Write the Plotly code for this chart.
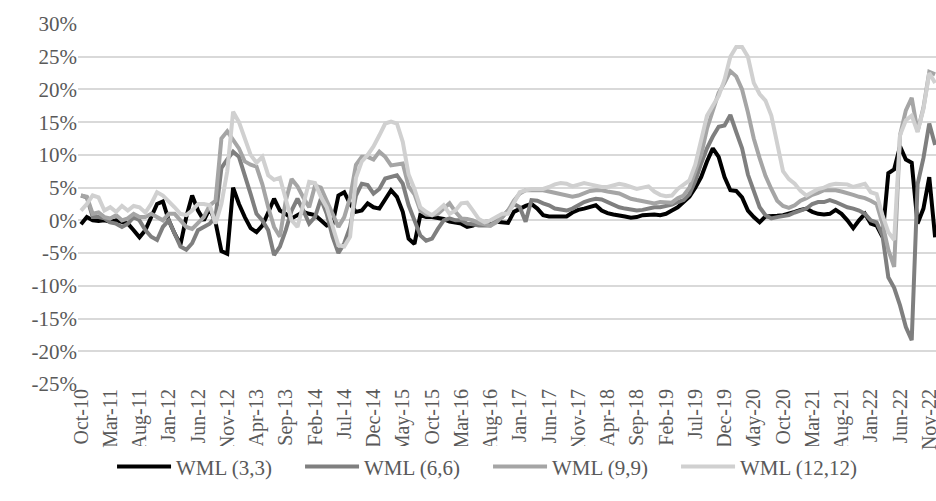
import plotly.graph_objects as go

tick_labels = ["Oct-10", "Mar-11", "Aug-11", "Jan-12", "Jun-12", "Nov-12", "Apr-13", "Sep-13",
               "Feb-14", "Jul-14", "Dec-14", "May-15", "Oct-15", "Mar-16", "Aug-16", "Jan-17",
               "Jun-17", "Nov-17", "Apr-18", "Sep-18", "Feb-19", "Jul-19", "Dec-19", "May-20",
               "Oct-20", "Mar-21", "Aug-21", "Jan-22", "Jun-22", "Nov-22"]
y_tick_values = [-25, -20, -15, -10, -5, 0, 5, 10, 15, 20, 25, 30]
y_tick_labels = ["-25%", "-20%", "-15%", "-10%", "-5%", "0%", "5%", "10%", "15%", "20%", "25%", "30%"]

# monthly returns in %, Oct-10 onward
wml_3_3 = [-0.6, 0.5, 0.0, -0.1, 0.0, -0.2, 0.0, -0.3, -0.5, -1.5,
           -2.6, -1.5, 0.5, 2.5, 2.9, 0.0, -2.0, -3.7, 0.5, 3.8,
           1.5, 0.0, 1.8, -0.3, -4.7, -5.1, 5.0, 2.5, 0.5, -1.2,
           -1.8, -0.8, 1.2, 3.3, 1.5, 1.0, 0.3, 0.8, 1.3, 1.0,
           0.8, 0.0, -0.8, -0.5, 3.8, 4.3, 2.5, 1.3, 1.5, 2.6,
           2.0, 1.8, 3.3, 4.6, 3.6, 1.3, -2.8, -3.6, 0.8, 0.5,
           0.5, 0.3, 0.2, -0.2, -0.3, -0.5, -1.0, -0.8, -0.3, -0.2,
           -0.2, -0.2, -0.3, -0.4, 1.3, 1.8, 2.2, 2.5, 1.8, 0.8,
           0.6, 0.6, 0.6, 0.6, 1.2, 1.6, 1.8, 2.0, 2.3, 1.5,
           1.1, 0.9, 0.8, 0.6, 0.4, 0.5, 0.8, 0.9, 0.9, 0.8,
           1.0, 1.5, 2.0, 2.8, 3.6, 5.0, 6.6, 9.0, 11.0, 9.7,
           6.6, 4.6, 4.5, 3.5, 1.5, 0.5, -0.3, 0.6, 0.6, 0.7,
           0.8, 1.0, 1.3, 1.6, 1.8, 1.3, 1.0, 0.9, 1.0, 1.6,
           1.0, 0.0, -1.2, 0.0, 1.0, -0.5, -0.8, -2.5, 7.2, 7.8,
           11.3, 9.3, 8.8, -0.5, 1.8, 6.6, -2.6]

wml_6_6 = [3.8, 3.5, 0.5, 0.5, 0.3, -0.3, -0.5, -1.0, -0.5, 0.5,
           0.0, -1.5, -2.5, -3.0, -1.0, 0.0, -2.0, -4.0, -4.5, -3.5,
           -1.5, -1.0, -0.5, 0.5, 8.0, 9.3, 10.5, 9.7, 7.0, 4.0,
           1.0, 0.0, -1.5, -5.3, -4.0, -1.5, 1.5, 3.3, 1.5, -0.5,
           0.5, 3.3, 1.0, -2.5, -5.0, -3.5, -1.0, 3.8, 5.6, 5.4,
           4.1, 4.8, 6.4, 6.6, 6.9, 5.6, 2.3, 0.0, -2.3, -3.1,
           -2.8, -1.3, 0.0, 0.3, 0.0, 0.0, -0.5, -0.6, -0.8, -0.8,
           -0.8, 0.0, 0.5, 1.5, 2.5, 2.0, -0.2, 3.1, 3.0, 2.6,
           2.3, 1.8, 1.6, 1.5, 1.8, 2.3, 2.8, 3.1, 3.3, 3.2,
           2.8, 2.3, 2.0, 1.8, 1.6, 1.5, 1.6, 1.8, 2.0, 2.0,
           2.2, 2.4, 2.8, 3.1, 4.0, 6.0, 8.7, 11.0, 12.8, 14.3,
           14.5, 16.1, 13.5, 11.0, 7.0, 4.5, 2.0, 0.8, 0.3, 0.5,
           0.6, 0.8, 1.2, 1.5, 1.8, 2.5, 2.8, 2.8, 3.1, 2.8,
           2.4, 2.0, 1.8, 1.5, 1.0, 0.0, -0.3, -2.3, -8.7, -10.3,
           -13.0, -16.3, -18.3, 5.5, 9.5, 14.8, 11.5]

wml_9_9 = [3.8, 3.6, 1.0, 1.2, 0.5, 0.3, 0.8, 0.0, 0.3, 1.0,
           0.5, 0.5, 1.0, 0.5, 0.0, 1.0, 1.0, 0.0, -1.0, -1.3,
           -0.5, 0.5, 2.3, 3.0, 12.5, 13.6, 12.3, 11.0, 9.0, 8.5,
           8.2, 5.5, 2.0, -1.0, -2.5, 3.0, 6.3, 5.2, 3.5, 2.0,
           5.3, 5.0, 3.0, 1.0, -1.0, 0.5, 3.5, 8.5, 9.7, 9.7,
           9.3, 10.5, 9.7, 8.4, 8.5, 8.7, 5.2, 4.0, 1.5, 0.9,
           0.8, 1.0, 1.8, 2.6, 1.3, 0.3, 0.2, 0.0, -0.4, -0.6,
           -0.8, -0.3, 0.7, 1.5, 3.0, 4.1, 4.6, 4.6, 4.6, 4.6,
           4.4, 4.2, 4.0, 3.8, 3.6, 3.8, 4.1, 4.5, 4.6, 4.6,
           4.4, 4.3, 4.1, 3.7, 3.3, 3.1, 2.9, 2.7, 2.6, 2.8,
           2.8, 2.7, 3.4, 3.8, 5.0, 7.5, 10.0, 14.0, 16.8, 19.5,
           21.0, 22.8, 22.0, 20.0, 16.5, 12.5, 9.5, 6.8, 4.8, 3.0,
           2.2, 1.9, 2.3, 3.0, 3.4, 3.9, 4.2, 4.6, 4.6, 4.6,
           4.4, 4.2, 3.9, 3.6, 3.4, 3.0, 2.5, -0.5, -4.5, -7.1,
           13.0, 16.8, 18.7, 13.6, 17.2, 22.7, 22.3]

wml_12_12 = [1.5, 2.5, 3.8, 3.5, 1.5, 2.0, 1.3, 2.2, 1.5, 2.2,
             2.0, 1.2, 2.5, 4.3, 3.8, 3.0, 2.0, 1.0, 0.8, 1.5,
             2.5, 2.5, 2.3, -0.5, 2.5, 7.5, 16.6, 15.0, 12.3, 10.0,
             8.8, 9.7, 6.9, 6.2, 6.5, 3.2, 0.0, -1.0, 2.5, 5.9,
             5.7, 3.6, 2.0, -1.0, -3.8, -4.0, -2.5, 6.5, 9.0, 10.0,
             11.3, 13.0, 14.8, 15.1, 14.8, 12.0, 7.0, 4.8, 2.0, 1.3,
             0.8, 1.5, 2.3, 1.0, 1.5, 2.6, 2.7, 1.5, 0.2, -0.3,
             0.0, 0.5, 1.0, 1.0, 2.8, 4.3, 4.6, 4.8, 4.8, 4.8,
             5.1, 5.5, 5.7, 5.6, 5.2, 5.4, 5.7, 5.5, 5.3, 5.1,
             5.1, 5.4, 5.6, 5.4, 5.1, 4.8, 5.0, 5.2, 4.4, 3.9,
             3.7, 3.8, 4.8, 5.5, 6.1, 8.5, 12.5, 16.0, 17.5, 19.0,
             21.5, 25.0, 26.5, 26.5, 25.0, 21.0, 19.3, 18.3, 16.0, 12.0,
             7.5, 6.3, 5.6, 4.5, 3.8, 4.3, 4.8, 5.0, 5.4, 5.6,
             5.6, 5.5, 5.1, 5.4, 5.6, 4.3, 4.0, 0.8, -1.8, -3.0,
             13.0, 15.3, 16.0, 13.5, 17.0, 22.5, 21.0]

series = [("WML (3,3)", wml_3_3, "#000000"),
          ("WML (6,6)", wml_6_6, "#7f7f7f"),
          ("WML (9,9)", wml_9_9, "#a5a5a5"),
          ("WML (12,12)", wml_12_12, "#d0d0d0")]

FONT = "Liberation Serif"
TXT = "#595959"

fig = go.Figure()
for name, vals, col in series:
    fig.add_trace(go.Scatter(x=list(range(len(vals))), y=vals, mode="lines", name=name,
                             line=dict(color=col, width=4)))

fig.update_layout(
    width=936, height=501,
    margin=dict(l=78, r=0, t=24, b=117, autoexpand=False),
    paper_bgcolor="white", plot_bgcolor="white",
    font=dict(family=FONT, size=20, color=TXT),
    showlegend=True,
    legend=dict(orientation="h", xref="container", yref="container",
                x=0.1197, xanchor="left", y=0.068, yanchor="middle",
                entrywidth=119, entrywidthmode="pixels", itemwidth=54,
                font=dict(family=FONT, size=21, color=TXT), traceorder="normal"),
)
fig.update_xaxes(range=[-0.513, 146.15], tickmode="array",
                 tickvals=list(range(0, 5 * len(tick_labels), 5)), ticktext=tick_labels,
                 tickangle=-90, showgrid=False, zeroline=False, showline=False,
                 automargin=False, ticks="", ticklabeloverflow="allow",
                 tickfont=dict(family=FONT, size=20, color=TXT))
fig.update_yaxes(range=[-25, 30], tickmode="array", tickvals=y_tick_values,
                 ticktext=y_tick_labels, showgrid=True,
                 gridcolor="#d9d9d9", gridwidth=1.5, zeroline=False, showline=False,
                 automargin=False, tickfont=dict(family=FONT, size=21, color=TXT))

fig.write_html("out.html",
               config={"displayModeBar": False},
               post_script="document.body.style.margin='0';document.body.style.overflow='hidden';")
